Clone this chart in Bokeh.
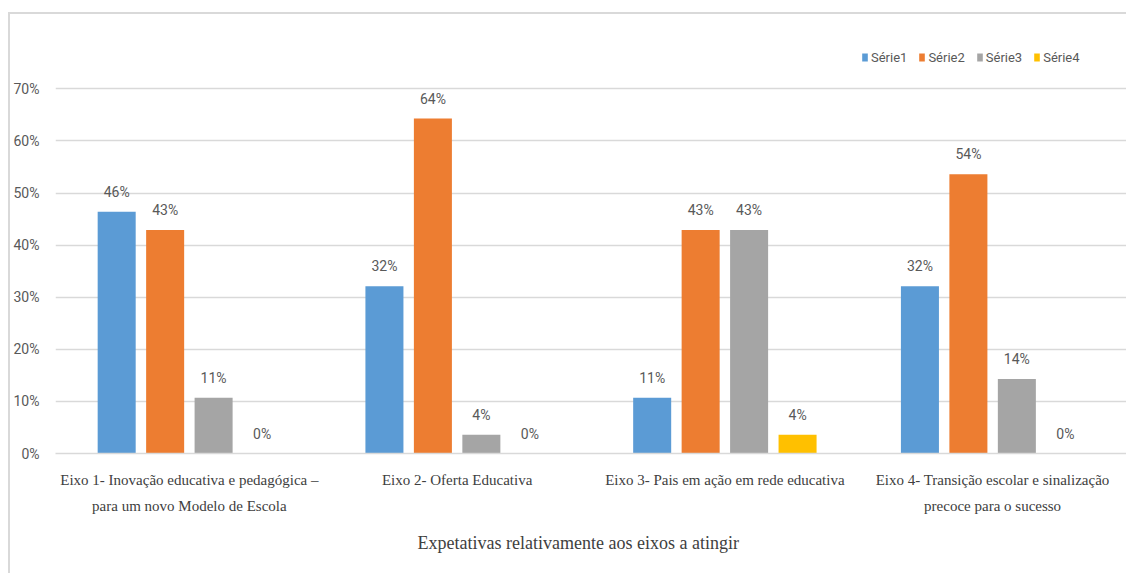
from bokeh.plotting import figure
from bokeh.models import (ColumnDataSource, FixedTicker, NumeralTickFormatter,
                          Legend, LegendItem, LinearAxis, Title)
from bokeh.transform import dodge
from bokeh.core.properties import value
from bokeh.embed import file_html
from bokeh.resources import INLINE

# ---- data ----
categories_line1 = [
    "Eixo 1- Inovação educativa e pedagógica –",
    "Eixo 2- Oferta Educativa",
    "Eixo 3- Pais em ação em rede educativa",
    "Eixo 4- Transição escolar e sinalização",
]
categories_line2 = [
    "para um novo Modelo de Escola",
    "",
    "",
    "precoce para o sucesso",
]
serie1 = [0.464, 0.321, 0.107, 0.321]
serie2 = [0.429, 0.643, 0.429, 0.536]
serie3 = [0.107, 0.036, 0.429, 0.143]
serie4 = [0.0, 0.0, 0.036, 0.0]
series_names = ["Série1", "Série2", "Série3", "Série4"]
y_ticks = [0.0, 0.1, 0.2, 0.3, 0.4, 0.5, 0.6, 0.7]
x_title = "Expetativas relativamente aos eixos a atingir"

colors = ["#5B9BD5", "#ED7D31", "#A5A5A5", "#FFC000"]
SANS = "Roboto"
SERIF = "Liberation Serif"

xpos = [i + 0.5 for i in range(len(categories_line1))]

# frame extends above the 70% gridline to host the legend
p = figure(width=1118, height=561, x_range=(0, 4), y_range=(0, 0.7928),
           output_backend="svg", toolbar_location=None,
           min_border_left=44, min_border_right=2,
           min_border_top=26, min_border_bottom=122)
p.margin = (12, 0, 0, 8)
p.styles = {"border-top": "2px solid #d9d9d9", "border-left": "2px solid #d9d9d9"}
p.outline_line_color = None
p.background_fill_color = "white"
p.border_fill_color = "white"

pitch = 0.181
bw = 0.142
offsets = [-1.5 * pitch, -0.5 * pitch, 0.5 * pitch, 1.5 * pitch]
all_series = [serie1, serie2, serie3, serie4]

items = []
for name, vals, col, off in zip(series_names, all_series, colors, offsets):
    src = ColumnDataSource(dict(x=xpos, top=vals,
                                lbl=[f"{round(v * 100)}%" for v in vals]))
    r = p.vbar(x=dodge("x", off, range=p.x_range), top="top", width=bw,
               source=src, fill_color=col, line_color=None)
    p.text(x=dodge("x", off, range=p.x_range), y="top", text="lbl", source=src,
           text_align="center", text_baseline="middle", y_offset=-20,
           text_font=value(SANS), text_font_size="14px", text_color="#595959")
    items.append(LegendItem(label=name, renderers=[r]))

legend = Legend(items=items, orientation="horizontal", location=(806, 388),
                border_line_color=None, background_fill_alpha=0,
                padding=0, margin=0, spacing=11, label_standoff=3,
                glyph_width=7, glyph_height=10, label_height=16,
                label_text_font=SANS, label_text_font_size="13px",
                label_text_color="#595959")
p.add_layout(legend, "center")

# y axis
p.yaxis.ticker = FixedTicker(ticks=y_ticks)
p.yaxis.formatter = NumeralTickFormatter(format="0%")
p.yaxis.axis_line_color = None
p.yaxis.major_tick_line_color = None
p.yaxis.minor_tick_line_color = None
p.yaxis.major_label_text_font = SANS
p.yaxis.major_label_text_font_size = "14px"
p.yaxis.major_label_text_color = "#595959"
p.yaxis.major_label_standoff = 10

# x axis (first line of category labels)
p.xaxis.ticker = FixedTicker(ticks=xpos)
p.xaxis.major_label_overrides = {x: c for x, c in zip(xpos, categories_line1)}
p.xaxis.axis_line_color = "#d9d9d9"
p.xaxis.axis_line_width = 1.5
p.xaxis.major_tick_line_color = None
p.xaxis.minor_tick_line_color = None
p.xaxis.major_label_text_font = SERIF
p.xaxis.major_label_text_font_size = "15px"
p.xaxis.major_label_text_color = "#404040"
p.xaxis.major_label_standoff = 12

# second line of category labels
ax2 = LinearAxis(ticker=FixedTicker(ticks=xpos),
                 major_label_overrides={x: c for x, c in zip(xpos, categories_line2)},
                 axis_line_color=None, major_tick_line_color=None,
                 minor_tick_line_color=None,
                 major_label_text_font=SERIF, major_label_text_font_size="15px",
                 major_label_text_color="#404040", major_label_standoff=1)
p.add_layout(ax2, "below")

title = Title(text=x_title, align="left", offset=362, standoff=29,
              text_font=SERIF, text_font_style="normal", text_font_size="18px",
              text_color="#404040")
p.add_layout(title, "below")

p.xgrid.grid_line_color = None
p.ygrid.grid_line_color = "#d9d9d9"
p.ygrid.grid_line_width = 1.5

open("out.html", "w").write(file_html(p, INLINE))
